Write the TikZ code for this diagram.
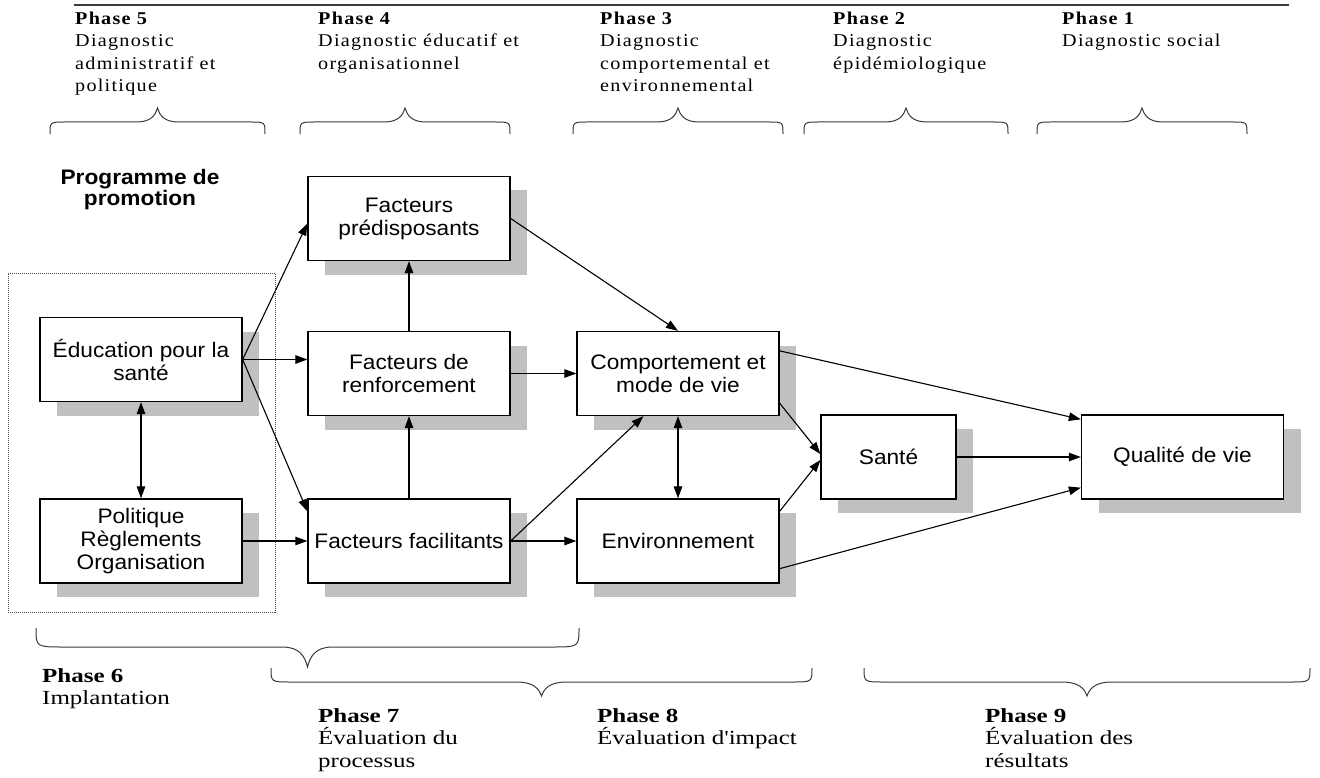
\documentclass[tikz,border=0pt]{standalone}
\usepackage{fontspec}
\setmainfont{Liberation Serif}
\newfontfamily\boxfont[FakeStretch=1.08]{Liberation Sans}
\newfontfamily\topfont[FakeStretch=1.12,LetterSpace=7]{Liberation Serif}
\newfontfamily\botfont[FakeStretch=1.25]{Liberation Serif}
\usetikzlibrary{arrows.meta,shadows,calc}

\definecolor{shadowgray}{HTML}{C0C0C0}
\definecolor{rulegray}{HTML}{3A3A3A}

% curly brace: x1, x2, y of ends, y of flat part, y of tip, end radius, tip half width
\newcommand\curlybrace[7]{%
  \draw[bracestyle] (#1,#3) .. controls (#1,#4) .. ({#1+#6},#4)
    -- ({(#1+#2)/2-#7},#4)
    .. controls ({(#1+#2)/2-0.3*#7},#4) and ({(#1+#2)/2-0.1*#7},{#4+0.5*(#5-#4)}) .. ({(#1+#2)/2},#5)
    .. controls ({(#1+#2)/2+0.1*#7},{#4+0.5*(#5-#4)}) and ({(#1+#2)/2+0.3*#7},#4) .. ({(#1+#2)/2+#7},#4)
    -- ({#2-#6},#4) .. controls (#2,#4) .. (#2,#3);}

\begin{document}
\begin{tikzpicture}[x=1pt,y=-1pt,
  box/.style={draw=black, line width=1.3pt, fill=white,
    minimum width=202pt, minimum height=84pt, inner sep=0pt, align=center,
    font=\boxfont\fontsize{21}{23}\selectfont,
    drop shadow={shadow xshift=17pt, shadow yshift=-14pt, fill=shadowgray, opacity=1}},
  smallbox/.style={box, minimum width=135pt},
  arr/.style={line width=1.1pt, -{Triangle[length=12pt,width=8.5pt]}},
  dblarr/.style={line width=1.1pt, {Triangle[length=12pt,width=8.5pt]}-{Triangle[length=12pt,width=8.5pt]}},
  bracestyle/.style={draw=rulegray, line width=1pt},
  toplabel/.style={anchor=north west, inner sep=0pt, align=left,
    font=\topfont\fontsize{18}{22.5}\selectfont},
  botlabel/.style={anchor=north west, inner sep=0pt, align=left,
    font=\botfont\fontsize{20}{22.5}\selectfont},
  dotbox/.style={draw=black!70, line width=0.8pt, dash pattern=on 1pt off 1pt,
    minimum width=267pt, minimum height=339pt, inner sep=0pt}
]
\useasboundingbox (0,0) rectangle (1320,778);

% top rule and phase headings
\coordinate (ruleL) at (74,5);
\coordinate (ruleR) at (1289,5);
\draw[rulegray, line width=1.5pt] (ruleL) -- (ruleR);

\node[toplabel] (ph5) at (75,11.7) {\textbf{Phase 5}\\Diagnostic\\administratif et\\politique};
\node[toplabel] (ph4) at (318,11.7) {\textbf{Phase 4}\\Diagnostic éducatif et\\organisationnel};
\node[toplabel] (ph3) at (600,11.7) {\textbf{Phase 3}\\Diagnostic\\comportemental et\\environnemental};
\node[toplabel] (ph2) at (833,11.7) {\textbf{Phase 2}\\Diagnostic\\épidémiologique};
\node[toplabel] (ph1) at (1062,11.7) {\textbf{Phase 1}\\Diagnostic social};

\curlybrace{50}{265}{134}{122}{108}{15}{21}
\curlybrace{300}{510}{134}{122}{108}{15}{21}
\curlybrace{573}{783}{134}{122}{108}{15}{21}
\curlybrace{804}{1008}{134}{122}{108}{15}{21}
\curlybrace{1037}{1247}{134}{122}{108}{15}{21}

% programme block
\node[dotbox] (impl) at (141.5,442.5) {};
\node[font=\boxfont\bfseries\fontsize{21}{21}\selectfont, align=center, inner sep=0pt] (prog) at (140,190) {Programme de\\promotion};

% boxes
\node[box] (edu) at (141,359.5) {Éducation pour la\\santé};
\node[box] (pol) at (141,541) {Politique\\Règlements\\Organisation};
\node[box] (pre) at (409,218.5) {Facteurs\\prédisposants};
\node[box] (ren) at (409,373.5) {Facteurs de\\renforcement};
\node[box] (fac) at (409,541) {Facteurs facilitants};
\node[box] (com) at (678,373.5) {Comportement et\\mode de vie};
\node[box] (env) at (678,541) {Environnement};
\node[smallbox] (san) at (888.5,457) {Santé};
\node[box] (qua) at (1182.5,457) {Qualité de vie};

% connectors
\draw[arr] (edu.east) -- ($(pre.west)+(0,5)$);
\draw[arr] (edu.east) -- (edu.east -| ren.west);
\draw[arr] (edu.east) -- ($(fac.north west)+(0,13)$);
\draw[arr] (pol.east) -- (fac.west);
\draw[dblarr] (edu.south) -- (pol.north);
\draw[arr] (ren.north) -- (pre.south);
\draw[arr] (fac.north) -- (ren.south);
\draw[arr] (pre.east) -- (com.north);
\draw[arr] (ren.east) -- (com.west);
\draw[arr] (fac.east) -- ($(com.south west)+(67,0)$);
\draw[arr] (fac.east) -- (env.west);
\draw[dblarr] (com.south) -- (env.north);
\draw[arr] ($(com.north east)+(0,20)$) -- ($(qua.north west)+(0,5)$);
\draw[arr] ($(com.south east)+(0,-13)$) -- ($(san.west)+(0,-3)$);
\draw[arr] ($(env.north east)+(0,13)$) -- ($(san.west)+(0,3)$);
\draw[arr] (san.east) -- (qua.west);
\draw[arr] ($(env.south east)+(0,-15)$) -- ($(qua.south west)+(0,-12)$);

% evaluation phases
\curlybrace{36}{579}{628}{647}{667}{28}{25}
\curlybrace{271}{812}{668}{682}{696}{20}{25}
\curlybrace{864}{1310}{668}{682}{696}{20}{25}

\node[botlabel] (ph6) at (42,668) {\textbf{Phase 6}\\Implantation};
\node[botlabel] (ph7) at (318,708) {\textbf{Phase 7}\\Évaluation du\\processus};
\node[botlabel] (ph8) at (597,708) {\textbf{Phase 8}\\Évaluation d'impact};
\node[botlabel] (ph9) at (985,708) {\textbf{Phase 9}\\Évaluation des\\résultats};
\end{tikzpicture}
\end{document}
